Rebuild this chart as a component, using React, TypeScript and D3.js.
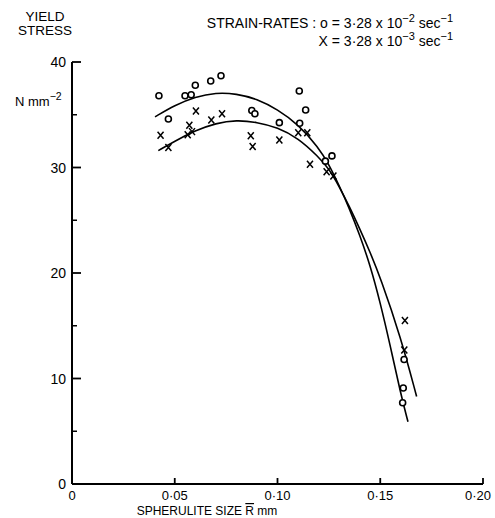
import React from "react";
import * as d3 from "d3";

// strain rate 3.28e-2 (circles)
const fastX = [0.0423, 0.0469, 0.055, 0.058, 0.06, 0.0675, 0.0725, 0.0875, 0.089, 0.1009, 0.1106, 0.1108, 0.1137, 0.1233, 0.1265, 0.1616, 0.1612, 0.1609];
const fastY = [36.8, 34.6, 36.8, 36.9, 37.8, 38.2, 38.7, 35.4, 35.1, 34.25, 37.25, 34.2, 35.45, 30.6, 31.1, 11.8, 9.1, 7.7];

// strain rate 3.28e-3 (crosses)
const slowX = [0.0431, 0.0469, 0.0603, 0.0571, 0.0563, 0.0584, 0.0678, 0.073, 0.087, 0.0879, 0.1009, 0.1101, 0.1145, 0.1158, 0.1239, 0.1272, 0.162, 0.1617];
const slowY = [33.05, 31.9, 35.35, 34.0, 33.1, 33.4, 34.5, 35.1, 33.0, 32.0, 32.6, 33.3, 33.3, 30.3, 29.6, 29.2, 15.5, 12.7];

// fitted curves as drawn
const fastCurveX = [0.0404, 0.05, 0.06, 0.07, 0.08, 0.09, 0.1, 0.11, 0.12, 0.125, 0.13, 0.135, 0.14, 0.145, 0.15, 0.155, 0.16, 0.1635];
const fastCurveY = [34.8, 35.9, 36.7, 37.1, 37.0, 36.5, 35.5, 34.1, 31.9, 30.3, 28.3, 26.1, 23.6, 20.8, 17.2, 13.0, 8.5, 5.9];
const slowCurveX = [0.042, 0.05, 0.06, 0.07, 0.08, 0.09, 0.1, 0.11, 0.12, 0.125, 0.13, 0.135, 0.14, 0.145, 0.15, 0.16, 0.1677];
const slowCurveY = [31.6, 32.5, 33.5, 34.2, 34.5, 34.3, 33.8, 32.8, 31.0, 29.9, 28.2, 26.3, 24.2, 22.0, 19.6, 13.9, 8.3];

const xTicks = [0, 0.05, 0.1, 0.15, 0.2];
const xTickLabels = ["0", "0·05", "0·10", "0·15", "0·20"];
const yMajor = [0, 10, 20, 30, 40];
const yMinor = [5, 15, 25, 35];

const font = "'Liberation Sans', Arial, sans-serif";

export default function App() {
  const x = d3.scaleLinear().domain([0, 0.2]).range([72, 483]);
  const y = d3.scaleLinear().domain([0, 40]).range([484, 62]);

  const line = d3
    .line<[number, number]>()
    .x(d => x(d[0]))
    .y(d => y(d[1]))
    .curve(d3.curveBasis);

  const fastCurve = fastCurveX.map((v, i) => [v, fastCurveY[i]] as [number, number]);
  const slowCurve = slowCurveX.map((v, i) => [v, slowCurveY[i]] as [number, number]);

  return (
    <svg width={495} height={518} style={{ position: "absolute", left: 0, top: 0 }} fontFamily={font}>
      <rect width={495} height={518} fill="#fff" />

      {/* axes */}
      <line x1={x(0)} x2={x(0)} y1={y(40)} y2={y(0)} stroke="#000" strokeWidth={2} />
      <line x1={x(0)} x2={x(0.2)} y1={y(0)} y2={y(0)} stroke="#000" strokeWidth={2} />

      {yMajor.map(t => (
        <g key={t}>
          {t > 0 && <line x1={x(0)} x2={x(0) + 9} y1={y(t)} y2={y(t)} stroke="#000" strokeWidth={1.8} />}
          <text x={66} y={y(t) + 5} textAnchor="end" fontSize={14}>{t}</text>
        </g>
      ))}
      {yMinor.map(t => (
        <line key={t} x1={x(0)} x2={x(0) + 5} y1={y(t)} y2={y(t)} stroke="#000" strokeWidth={1.5} />
      ))}

      {xTicks.map((t, i) => (
        <g key={t}>
          {t > 0 && <line x1={x(t)} x2={x(t)} y1={y(0)} y2={y(0) - 6} stroke="#000" strokeWidth={1.8} />}
          <text x={Math.min(x(t), 478)} y={500} textAnchor="middle" fontSize={13}>{xTickLabels[i]}</text>
        </g>
      ))}

      {/* titles */}
      <text x={45} y={21} textAnchor="middle" fontSize={13.5}>YIELD</text>
      <text x={45} y={35} textAnchor="middle" fontSize={13.5}>STRESS</text>
      <text x={15} y={106} fontSize={13}>
        N mm<tspan dy={-6} fontSize={10.5}>−2</tspan>
      </text>
      <text x={207} y={515} textAnchor="middle" fontSize={12}>
        SPHERULITE SIZE <tspan textDecoration="overline">R</tspan> mm
      </text>

      <text x={453} y={28} textAnchor="end" fontSize={14}>
        STRAIN-RATES : o = 3·28 x 10<tspan dy={-6} fontSize={11}>−2</tspan>
        <tspan dy={6}> sec</tspan><tspan dy={-6} fontSize={11}>−1</tspan>
      </text>
      <text x={453} y={46} textAnchor="end" fontSize={14}>
        X = 3·28 x 10<tspan dy={-6} fontSize={11}>−3</tspan>
        <tspan dy={6}> sec</tspan><tspan dy={-6} fontSize={11}>−1</tspan>
      </text>

      {/* curves */}
      <path d={line(fastCurve) || ""} fill="none" stroke="#000" strokeWidth={1.6} />
      <path d={line(slowCurve) || ""} fill="none" stroke="#000" strokeWidth={1.6} />

      {/* crosses */}
      {slowX.map((v, i) => {
        const cx = x(v);
        const cy = y(slowY[i]);
        return (
          <path
            key={"s" + i}
            d={`M${cx - 3},${cy - 3.5}L${cx + 3},${cy + 3.5}M${cx + 3},${cy - 3.5}L${cx - 3},${cy + 3.5}`}
            stroke="#000"
            strokeWidth={1.5}
          />
        );
      })}

      {/* circles */}
      {fastX.map((v, i) => (
        <circle key={"f" + i} cx={x(v)} cy={y(fastY[i])} r={3} fill="#fff" stroke="#000" strokeWidth={1.6} />
      ))}
    </svg>
  );
}
